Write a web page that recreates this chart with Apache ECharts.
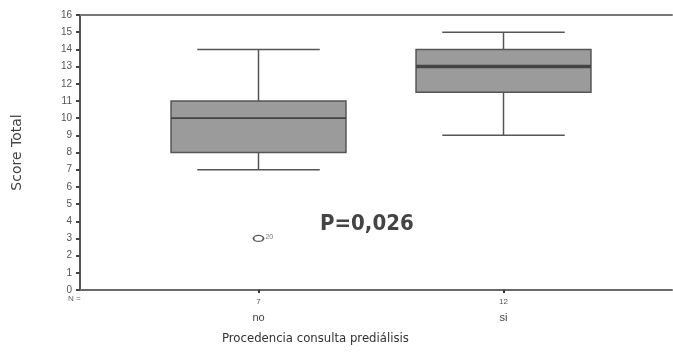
<!DOCTYPE html>
<html>
<head>
<meta charset="utf-8">
<script src="https://cdn.jsdelivr.net/npm/echarts@6/dist/echarts.min.js"></script>
<style>
  html, body { margin: 0; padding: 0; background: #fff; }
  #chart { width: 673px; height: 354px; }
</style>
</head>
<body>
<div id="chart"></div>
<script>
// groups and sample sizes
const categories = ['no', 'si']
const counts = [7, 12]
// [min, Q1, median, Q3, max]
const boxNo = [7, 8, 10, 11, 14]
const boxSi = [9, 11.5, 13, 14, 15]
// outlier: [category, value, case id]
const outliers = [['no', 3, '20']]
const yTicks = [0, 16, 1] // min, max, interval

const chart = echarts.init(document.getElementById('chart'))

const boxRows = [
  [0].concat(boxNo),
  [1].concat(boxSi)
]

function renderBox(params, api) {
  const cat = api.value(0)
  const band = api.size([1, 0])[0]
  const half = band * 0.357
  const capHalf = band * 0.25
  const lo = api.coord([cat, api.value(1)])
  const q1 = api.coord([cat, api.value(2)])
  const med = api.coord([cat, api.value(3)])
  const q3 = api.coord([cat, api.value(4)])
  const hi = api.coord([cat, api.value(5)])
  const x = lo[0]
  const line = { stroke: '#555', lineWidth: 1.5 }
  return {
    type: 'group',
    children: [
      { type: 'line', shape: { x1: x, y1: hi[1], x2: x, y2: q3[1] }, style: line },
      { type: 'line', shape: { x1: x, y1: q1[1], x2: x, y2: lo[1] }, style: line },
      { type: 'line', shape: { x1: x - capHalf, y1: hi[1], x2: x + capHalf, y2: hi[1] }, style: line },
      { type: 'line', shape: { x1: x - capHalf, y1: lo[1], x2: x + capHalf, y2: lo[1] }, style: line },
      {
        type: 'rect',
        shape: { x: x - half, y: q3[1], width: half * 2, height: q1[1] - q3[1] },
        style: { fill: '#9b9b9b', stroke: '#555', lineWidth: 1.5 }
      },
      {
        type: 'line',
        shape: { x1: x - half, y1: med[1], x2: x + half, y2: med[1] },
        style: { stroke: '#444', lineWidth: cat === 1 ? 3.5 : 1.8 }
      }
    ]
  }
}

chart.setOption({
  animation: false,
  backgroundColor: '#fff',
  grid: [
    { left: 80, right: 1, top: 15, bottom: 64 },
    { left: 136, right: 47, top: 15, bottom: 64 }
  ],
  xAxis: [
    {
      gridIndex: 0, type: 'value', min: 0, max: 1, position: 'bottom',
      axisLine: { lineStyle: { color: '#6a6a6a', width: 2 } },
      axisTick: { show: false }, axisLabel: { show: false }, splitLine: { show: false }
    },
    {
      gridIndex: 0, type: 'value', min: 0, max: 1, position: 'top',
      axisLine: { lineStyle: { color: '#777', width: 2 } },
      axisTick: { show: false }, axisLabel: { show: false }, splitLine: { show: false }
    },
    {
      gridIndex: 1, type: 'category', data: categories, boundaryGap: true,
      axisLine: { show: false },
      axisTick: { show: true, alignWithLabel: true, length: 3, lineStyle: { color: '#333', width: 2 } },
      axisLabel: {
        margin: 5,
        formatter: function (v, i) {
          return '{n|' + counts[i] + '}\n{c|' + v + '}'
        },
        rich: {
          n: { fontSize: 8, color: '#555', fontFamily: 'Arial', lineHeight: 14 },
          c: { fontSize: 11, color: '#444', fontFamily: 'Arial', lineHeight: 18 }
        }
      }
    }
  ],
  yAxis: [
    {
      gridIndex: 0, type: 'value', min: yTicks[0], max: yTicks[1], interval: yTicks[2],
      name: 'Score Total', nameLocation: 'middle', nameGap: 56, nameRotate: 90,
      nameTextStyle: { fontSize: 14, color: '#444', fontFamily: 'DejaVu Sans' },
      axisLine: { show: true, lineStyle: { color: '#555', width: 2 } },
      axisTick: { show: true, length: 4, lineStyle: { color: '#444', width: 2 } },
      axisLabel: { fontSize: 10, color: '#555', fontFamily: 'Arial', margin: 8 },
      splitLine: { show: false }
    },
    {
      gridIndex: 1, type: 'value', min: yTicks[0], max: yTicks[1], interval: yTicks[2],
      show: false
    }
  ],
  graphic: [
    {
      type: 'text', left: 68, top: 295,
      style: { text: 'N =', fontSize: 8, fill: '#666', fontFamily: 'Arial' }
    },
    {
      type: 'text', left: 222, top: 332,
      style: { text: 'Procedencia consulta prediálisis', fontSize: 13, fill: '#333', fontFamily: 'DejaVu Sans Condensed' }
    },
    {
      type: 'text', left: 320, top: 213,
      style: { text: 'P=0,026', fontSize: 22, fontWeight: 'bold', fill: '#444', fontFamily: 'DejaVu Sans Condensed' }
    }
  ],
  series: [
    {
      type: 'custom',
      xAxisIndex: 2, yAxisIndex: 1,
      renderItem: renderBox,
      encode: { x: 0, y: [1, 2, 3, 4, 5] },
      data: boxRows
    },
    {
      type: 'scatter',
      xAxisIndex: 2, yAxisIndex: 1,
      symbol: 'circle', symbolSize: [10, 6],
      itemStyle: { color: '#fff', borderColor: '#333', borderWidth: 1.5 },
      label: {
        show: true, position: 'right', distance: 1, offset: [0, -1],
        formatter: function (p) { return p.data[2] },
        fontSize: 7, color: '#555', fontFamily: 'Arial'
      },
      data: outliers
    }
  ]
})
</script>
</body>
</html>
